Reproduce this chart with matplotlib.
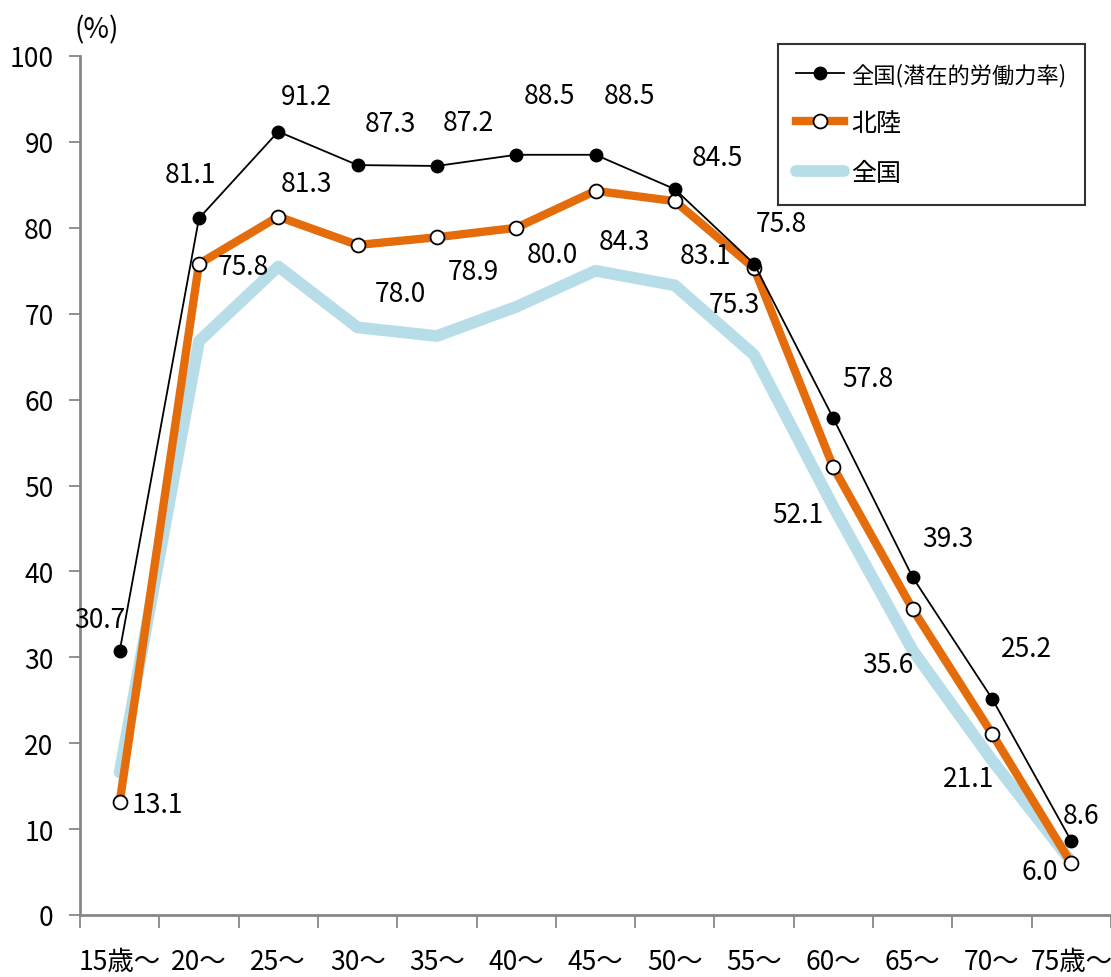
import numpy as np
import matplotlib
matplotlib.use('Agg')
from matplotlib import pyplot as plt
from matplotlib.lines import Line2D

ages = ['15歳～', '20～', '25～', '30～', '35～', '40～', '45～',
        '50～', '55～', '60～', '65～', '70～', '75歳～']
zenkoku_senzai = [30.7, 81.1, 91.2, 87.3, 87.2, 88.5, 88.5, 84.5, 75.8, 57.8, 39.3, 25.2, 8.6]
hokuriku = [13.1, 75.8, 81.3, 78.0, 78.9, 80.0, 84.3, 83.1, 75.3, 52.1, 35.6, 21.1, 6.0]
zenkoku = [16.6, 66.8, 75.5, 68.4, 67.4, 70.8, 75.0, 73.3, 65.2, 47.5, 30.8, 18.0, 6.2]
series_names = ['全国(潜在的労働力率)', '北陸', '全国']

# label offsets (pixels)
off_black = [(-20, 32), (-8, 44), (28, 35), (33, 42), (31, 43), (33, 59), (34, 59),
             (43, 32), (27, 40), (34, 40), (35, 39), (35, 50), (10, 26)]
off_orange = [(38, -2), (44, -3), (28, 33), (43, -49), (36, -34), (36, -27), (29, -51),
              (31, -54), (-20, -36), (-36, -47), (-25, -55), (-23, -45), (-32, -8)]

plt.rcParams['font.family'] = ['Noto Sans CJK JP', 'DejaVu Sans']

fig = plt.figure(figsize=(11.11, 9.78), dpi=100)
ax = fig.add_axes([80/1111, 1-916/978, 1031/1111, 859/978])

x = np.arange(len(ages))
orange = '#E46C0A'
blue = '#B7DEE8'
ax.plot(x, zenkoku, color=blue, lw=8.5, solid_capstyle='round', solid_joinstyle='round', zorder=2)
ax.plot(x, hokuriku, color=orange, lw=6, marker='o', ms=10, mfc='white', mec='black', mew=1.3,
        solid_joinstyle='round', zorder=3)
ax.plot(x, zenkoku_senzai, color='black', lw=1.3, marker='o', ms=9, mfc='black', mec='black', zorder=4)

for i in range(len(x)):
    ax.annotate('%.1f' % zenkoku_senzai[i], (x[i], zenkoku_senzai[i]), xytext=off_black[i],
                textcoords='offset pixels', ha='center', va='center', fontsize=19)
    ax.annotate('%.1f' % hokuriku[i], (x[i], hokuriku[i]), xytext=off_orange[i],
                textcoords='offset pixels', ha='center', va='center', fontsize=19)

ax.set_xlim(-0.5, 12.5)
ax.set_ylim(0, 100)
ax.set_yticks(range(0, 101, 10))
ax.set_xticks(x)
ax.set_xticklabels(ages)
ax.set_xticks(np.arange(-0.5, 13, 1), minor=True)
ax.tick_params(axis='x', which='major', length=0, pad=24, labelsize=19)
ax.tick_params(axis='x', which='minor', length=9, width=1.3, color='#888888', direction='out')
ax.tick_params(axis='y', length=8, width=1.3, color='#888888', pad=11, labelsize=19)
for s in ['top', 'right']:
    ax.spines[s].set_visible(False)
for s in ['left', 'bottom']:
    ax.spines[s].set_color('#888888')
    ax.spines[s].set_linewidth(2)

fig.text(97/1111, 1-30/978, '(%)', ha='center', va='center', fontsize=20)

handles = [Line2D([], [], color='black', lw=1.3, marker='o', ms=9, mfc='black'),
           Line2D([], [], color=orange, lw=6, marker='o', ms=10, mfc='white', mec='black', mew=1.3),
           Line2D([], [], color=blue, lw=8.5, solid_capstyle='round')]
leg = ax.legend(handles, series_names, loc='upper right', bbox_to_anchor=(0.975, 1.014),
                fontsize=18, frameon=True, fancybox=False, edgecolor='black',
                handlelength=1.9, labelspacing=0.95, handletextpad=0.3, borderpad=0.75,
                borderaxespad=0)
leg.get_frame().set_linewidth(1.5)
leg.get_texts()[0].set_fontsize(16)

fig.savefig('out.png', dpi=100)
